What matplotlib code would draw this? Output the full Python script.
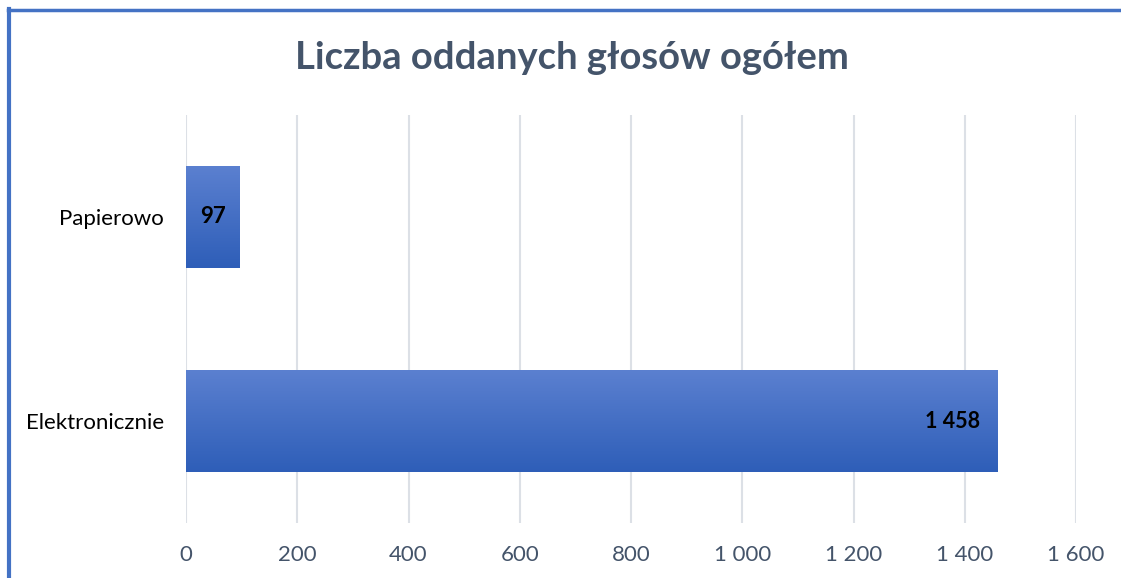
import matplotlib
matplotlib.use("Agg")
import matplotlib.pyplot as plt
import numpy as np
from matplotlib.colors import LinearSegmentedColormap
from matplotlib.lines import Line2D

# ── Data ───────────────────────────────────────────────────────────────────────
categories = ["Elektronicznie", "Papierowo"]
votes      = [1458, 97]
vote_labels = ["1 458", "97"]
x_ticks    = [0, 200, 400, 600, 800, 1000, 1200, 1400, 1600]
x_tick_labels = ["0", "200", "400", "600", "800", "1 000", "1 200", "1 400", "1 600"]
title      = "Liczba oddanych głosów ogółem"

# ── Style ──────────────────────────────────────────────────────────────────────
FONT       = ["Lato", "DejaVu Sans"]
TEXT_GREY  = "#44546A"
BORDER     = "#4472C4"
GRID       = "#DCE0E6"
BAR_TOP    = "#5B80D0"
BAR_BOTTOM = "#2E5EB8"

plt.rcParams["font.family"] = FONT

fig = plt.figure(figsize=(11.21, 5.78), dpi=100)
ax = fig.add_axes([186 / 1121, 1 - 523 / 578, 890 / 1121, 408 / 578])

y = np.arange(len(categories))
bars = ax.barh(y, votes, height=0.5, color=BAR_BOTTOM, zorder=2)

# vertical gradient on each bar, clipped to the bar rectangle
cmap = LinearSegmentedColormap.from_list("bar", [BAR_BOTTOM, BAR_TOP])
grad = np.linspace(0, 1, 256).reshape(-1, 1)
for b in bars:
    x0, y0 = b.get_x(), b.get_y()
    im = ax.imshow(grad, cmap=cmap, aspect="auto", origin="lower",
                   extent=[x0, x0 + b.get_width(), y0, y0 + b.get_height()],
                   zorder=3)
    im.set_clip_path(b)

ax.set_xlim(0, 1600)
ax.set_ylim(-0.5, len(categories) - 0.5)
ax.set_aspect("auto")

ax.set_xticks(x_ticks)
ax.set_xticklabels(x_tick_labels)
ax.set_yticks(y)
ax.set_yticklabels(categories)
ax.tick_params(axis="x", length=0, pad=16, labelsize=16, labelcolor=TEXT_GREY)
ax.tick_params(axis="y", length=0, pad=16, labelsize=16, labelcolor="black")

ax.grid(axis="x", color=GRID, linewidth=1.5, zorder=0)
ax.set_axisbelow(True)
for s in ax.spines.values():
    s.set_visible(False)

# value labels: small one centred, large one inside the end
for b, lab in zip(bars, vote_labels):
    cy = b.get_y() + b.get_height() / 2
    w = b.get_width()
    if w < 300:
        ax.text(w / 2, cy, lab, ha="center", va="center", fontsize=16,
                fontweight="bold", color="black", zorder=4)
    else:
        ax.text(w - 30, cy, lab, ha="right", va="center", fontsize=15.5,
                fontweight="bold", color="black", zorder=4)

fig.text(572 / 1121, 1 - 58 / 578, title, ha="center", va="center",
         fontsize=27.5, fontweight="bold", color=TEXT_GREY)

# chart frame (left and top edges visible in the crop)
fig.add_artist(Line2D([9 / 1121, 9 / 1121], [0, 1 - 9 / 578],
                      transform=fig.transFigure, color=BORDER, linewidth=3))
fig.add_artist(Line2D([7.5 / 1121, 1], [1 - 10 / 578, 1 - 10 / 578],
                      transform=fig.transFigure, color=BORDER, linewidth=2.5))

fig.savefig("out.png", dpi=100)
